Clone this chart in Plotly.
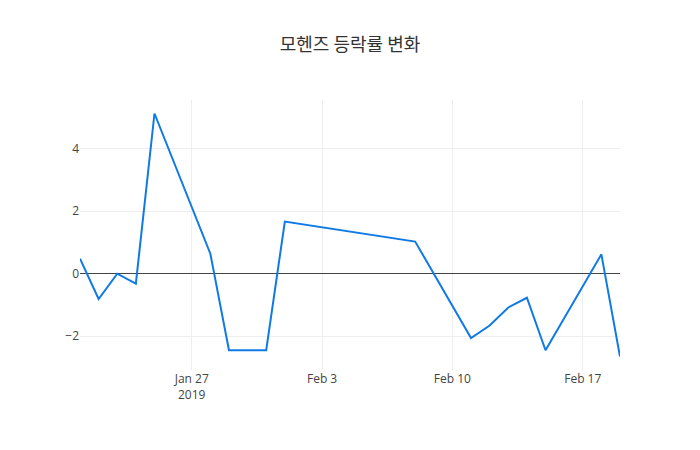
import plotly.graph_objects as go

dates = ["2019-01-21", "2019-01-22", "2019-01-23", "2019-01-24", "2019-01-25",
         "2019-01-28", "2019-01-29", "2019-01-31", "2019-02-01", "2019-02-08",
         "2019-02-11", "2019-02-12", "2019-02-13", "2019-02-14", "2019-02-15",
         "2019-02-18", "2019-02-19"]
change_rate = [0.48, -0.81, 0.0, -0.32, 5.13,
               0.64, -2.45, -2.45, 1.67, 1.03,
               -2.06, -1.66, -1.08, -0.77, -2.45,
               0.62, -2.65]

title_text = "모헨즈 등락률 변화"

fig = go.Figure()
fig.add_trace(go.Scatter(
    x=dates, y=change_rate, mode="lines",
    line=dict(color="#0f7ae5", width=2),
))

fig.update_layout(
    template="none",
    width=700, height=450,
    margin=dict(l=80, r=80, t=100, b=80),
    paper_bgcolor="white", plot_bgcolor="white",
    title=dict(text=title_text, x=0.5, xanchor="center", y=0.915,
               font=dict(family="Noto Sans CJK KR", size=18, color="#333")),
    font=dict(family="Open Sans", size=12, color="#444"),
    showlegend=False,
    xaxis=dict(showgrid=True, gridcolor="#eeeeee", zeroline=False,
               showline=False, ticks="", type="date",
               range=["2019-01-21", "2019-02-19"]),
    yaxis=dict(showgrid=True, gridcolor="#eeeeee", zeroline=True,
               zerolinecolor="#444", zerolinewidth=1, showline=False,
               ticks="", dtick=2),
)

fig.write_html("out.html")
